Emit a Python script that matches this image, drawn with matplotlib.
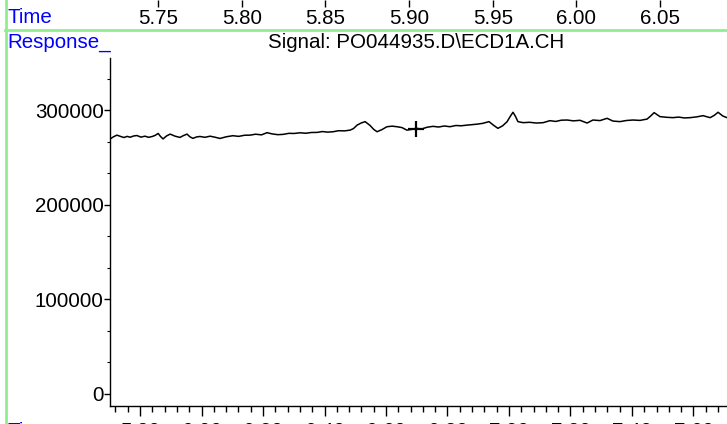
import matplotlib
matplotlib.use("Agg")
import matplotlib.pyplot as plt
from matplotlib.ticker import MultipleLocator, FixedLocator, FuncFormatter

plt.rcParams['font.family'] = ['Liberation Sans', 'DejaVu Sans']

# ---------------- data ----------------
time_min = [5.702, 5.714, 5.725, 5.737, 5.748, 5.758, 5.768, 5.779, 5.790, 5.803,
            5.816, 5.828, 5.839, 5.849, 5.859, 5.867, 5.875, 5.886, 5.898, 5.914,
            5.930, 5.941, 5.953, 5.962, 5.972, 5.984, 5.995, 6.011, 6.028, 6.044,
            6.060, 6.081, 6.102, 6.121, 6.140, 6.158, 6.176, 6.195, 6.213, 6.230,
            6.248, 6.265, 6.284, 6.302, 6.320, 6.339, 6.357, 6.376, 6.393, 6.410,
            6.428, 6.446, 6.465, 6.483, 6.494, 6.506, 6.519, 6.532, 6.548, 6.560,
            6.571, 6.587, 6.603, 6.620, 6.636, 6.652, 6.668, 6.683, 6.698, 6.716,
            6.734, 6.753, 6.771, 6.790, 6.808, 6.827, 6.845, 6.863, 6.880, 6.898,
            6.915, 6.935, 6.950, 6.964, 6.979, 6.994, 7.004, 7.013, 7.021, 7.029,
            7.046, 7.067, 7.089, 7.111, 7.133, 7.152, 7.170, 7.189, 7.210, 7.231,
            7.254, 7.273, 7.296, 7.319, 7.338, 7.361, 7.382, 7.403, 7.426, 7.449,
            7.461, 7.472, 7.491, 7.512, 7.533, 7.552, 7.570, 7.589, 7.610, 7.631,
            7.654, 7.667, 7.680, 7.695, 7.709]
response = [269500, 272000, 273700, 272300, 271200, 272400, 271500, 272800, 273300, 271600,
            272600, 271400, 272200, 273400, 275500, 272200, 269700, 272800, 274800, 272600,
            271300, 273200, 274800, 272000, 270300, 271800, 272300, 271400, 272600, 271500,
            270200, 272000, 273100, 272400, 273600, 273700, 274700, 274000, 276300, 275000,
            274200, 274500, 275600, 275500, 276200, 275700, 276500, 276600, 277500, 276900,
            277300, 278400, 278200, 279000, 280600, 284300, 286500, 288000, 284000, 279800,
            277300, 279600, 282600, 283200, 282600, 281700, 279000, 279800, 280900, 280200,
            282100, 283000, 282300, 283400, 282600, 283900, 283600, 284300, 284800, 285400,
            286200, 288000, 284100, 280900, 283500, 288000, 293500, 297900, 293600, 288000,
            286900, 287300, 286500, 286900, 289000, 288200, 289500, 289700, 288800, 289400,
            286500, 289700, 289100, 291500, 288600, 288000, 289200, 289700, 289300, 290700,
            294000, 297500, 293300, 292600, 292200, 292800, 291900, 292200, 293000, 294300,
            292200, 294500, 297900, 294000, 292200]

cursor_time = 6.698
cursor_value = 280200

top_time_ticks = [5.75, 5.80, 5.85, 5.90, 5.95, 6.00, 6.05]
top_time_range = (5.7213, 6.090)

title_text = "Signal: PO044935.D\\ECD1A.CH"

# ---------------- figure ----------------
W, H = 727, 424
fig = plt.figure(figsize=(W / 100, H / 100), dpi=100)
fig.patch.set_facecolor("white")

def fx(px):
    return px / W

def fy(py):
    return 1 - py / H

FS = 14.8
BLUE = "#0000ff"
GREEN = "#90ee90"

# main axes
left_px, right_px, top_px, bottom_px = 110, 727, 58, 406
ax = fig.add_axes([fx(left_px), fy(bottom_px), fx(right_px - left_px), (bottom_px - top_px) / H])
ax.plot(time_min, response, color="black", lw=1.1)
ax.plot(cursor_time, cursor_value, marker="+", ms=11, mew=1.6, color="black")
ax.set_xlim(5.7024, 7.709)
ax.set_ylim(-12800, 355300)
for s in ("top", "right"):
    ax.spines[s].set_visible(False)
ax.spines["left"].set_linewidth(1.0)
ax.spines["bottom"].set_linewidth(1.0)

ax.xaxis.set_major_locator(MultipleLocator(0.2))
ax.xaxis.set_minor_locator(MultipleLocator(0.04))
ax.xaxis.set_major_formatter(FuncFormatter(lambda v, p: f"{v:.2f}"))
ax.tick_params(axis="x", which="major", direction="out", length=7, width=1, labelsize=FS, pad=4.5)
ax.tick_params(axis="x", which="minor", direction="out", length=4, width=1)

ax.yaxis.set_major_locator(MultipleLocator(100000))
ax.yaxis.set_minor_locator(MultipleLocator(100000 / 3))
ax.yaxis.set_major_formatter(FuncFormatter(lambda v, p: f"{int(round(v))}"))
ax.tick_params(axis="y", which="major", direction="out", length=4, width=1, labelsize=FS, pad=0.5)
ax.tick_params(axis="y", which="minor", direction="out", length=2.5, width=0.8)

# top time strip
tax = fig.add_axes([fx(left_px), fy(30), fx(right_px - left_px), 30 / H])
tax.set_xlim(*top_time_range)
tax.set_ylim(0, 1)
tax.patch.set_alpha(0)
for s in tax.spines.values():
    s.set_visible(False)
tax.xaxis.set_major_locator(FixedLocator(top_time_ticks))
tax.xaxis.set_major_formatter(FuncFormatter(lambda v, p: f"{v:.2f}"))
tax.tick_params(axis="x", which="major", top=True, bottom=False, direction="in",
                length=5, width=1, labeltop=False, labelbottom=True, labelsize=FS, pad=-15)
tax.set_yticks([])

# decorations
fig.add_artist(plt.Line2D([fx(5), 1], [fy(30), fy(30)], color=GREEN, lw=2))
fig.add_artist(plt.Line2D([fx(6), fx(6)], [0, 1], color=GREEN, lw=2))
fig.text(fx(7), fy(17.5), "Time", color=BLUE, fontsize=FS, ha="left", va="center")
fig.text(fx(7), fy(42.5), "Response_", color=BLUE, fontsize=FS, ha="left", va="center")
fig.text(fx(7), fy(431), "Time", color=BLUE, fontsize=FS, ha="left", va="center")
fig.text(fx(416), fy(42), title_text, color="black", fontsize=FS, ha="center", va="center")

fig.savefig("out.png", dpi=100)
